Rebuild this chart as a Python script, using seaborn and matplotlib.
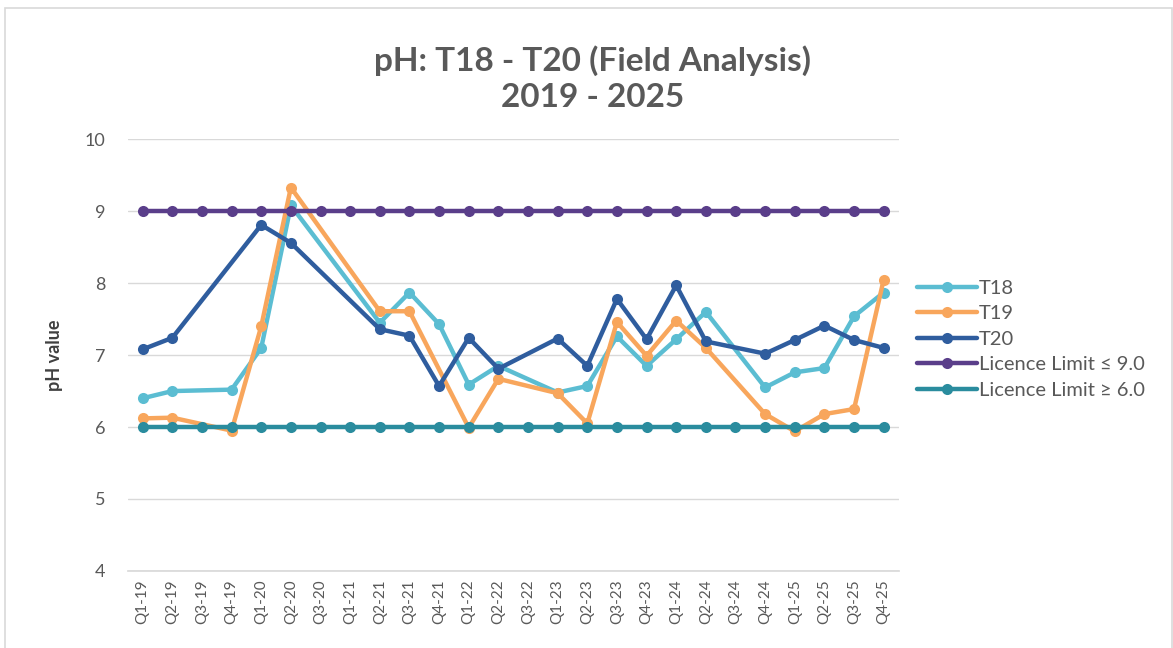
import numpy as np
import pandas as pd
import matplotlib
matplotlib.use("Agg")
import matplotlib.pyplot as plt
import seaborn as sns

quarters = ["Q1-19", "Q2-19", "Q3-19", "Q4-19", "Q1-20", "Q2-20", "Q3-20",
            "Q1-21", "Q2-21", "Q3-21", "Q4-21", "Q1-22", "Q2-22", "Q3-22",
            "Q1-23", "Q2-23", "Q3-23", "Q4-23", "Q1-24", "Q2-24", "Q3-24",
            "Q4-24", "Q1-25", "Q2-25", "Q3-25", "Q4-25"]
nan = np.nan
t18 = [6.40, 6.50, nan, 6.52, 7.10, 9.08, nan, nan, 7.45, 7.87, 7.43, 6.59, 6.85, nan,
       6.48, 6.57, 7.26, 6.85, 7.22, 7.60, nan, 6.55, 6.76, 6.82, 7.54, 7.87]
t19 = [6.12, 6.13, nan, 5.95, 7.40, 9.33, nan, nan, 7.61, 7.61, nan, 5.99, 6.67, nan,
       6.47, 6.05, 7.46, 6.99, 7.48, 7.10, nan, 6.18, 5.94, 6.18, 6.25, 8.05]
t20 = [7.08, 7.24, nan, nan, 8.81, 8.56, nan, nan, 7.36, 7.27, 6.57, 7.24, 6.81, nan,
       7.23, 6.85, 7.78, 7.22, 7.97, 7.19, nan, 7.02, 7.21, 7.41, 7.21, 7.10]
limit_max = [9.0] * len(quarters)
limit_min = [6.0] * len(quarters)

names = ["T18", "T19", "T20", "Licence Limit \u2264 9.0", "Licence Limit \u2265 6.0"]
colors = ["#5BBDD2", "#F8A65C", "#2F5D9E", "#5A3E8A", "#2A8C9E"]

rows = []
for name, vals in zip(names, [t18, t19, t20, limit_max, limit_min]):
    for i, v in enumerate(vals):
        if not np.isnan(v):
            rows.append({"pos": i, "pH": v, "series": name})
data = pd.DataFrame(rows)

sns.set_theme(style="white")
plt.rcParams['font.family'] = ['Lato', 'DejaVu Sans']

fig = plt.figure(figsize=(11.73, 6.48), dpi=100)
ax = fig.add_axes([0.109, 0.119, 0.657, 0.666])

for name, c in zip(names, colors):
    sub = data[data["series"] == name]
    sns.lineplot(x="pos", y="pH", data=sub, color=c, marker="o", markersize=8,
                 markeredgewidth=0, linewidth=3.2, label=name, ax=ax, sort=True)

ax.set_xlim(-0.5, len(quarters) - 0.5)
ax.set_ylim(4, 10)
ax.set_yticks(range(4, 11))
ax.set_xticks(range(len(quarters)))
ax.set_xticklabels(quarters, rotation=90, fontsize=11, color="#595959")
ax.tick_params(axis="y", labelsize=13, labelcolor="#595959", length=0, pad=16)
ax.tick_params(axis="x", length=0, pad=6)
ax.yaxis.grid(True, color="#D9D9D9", linewidth=1)
ax.set_axisbelow(True)
for s in ["top", "right", "left"]:
    ax.spines[s].set_visible(False)
ax.spines["bottom"].set_color("#D9D9D9")
ax.set_xlabel("")
ax.set_ylabel("pH value", fontsize=13, fontweight="bold", color="#404040", labelpad=16)

fig.suptitle("pH: T18 - T20 (Field Analysis)\n2019 - 2025", x=0.505, y=0.93,
             fontsize=24, fontweight="bold", color="#595959", linespacing=1.3)

leg = ax.legend(loc="center left", bbox_to_anchor=(1.0, 0.537), frameon=False,
                fontsize=14.5, handlelength=3.0, handletextpad=0.1, labelspacing=0.42,
                labelcolor="#595959")

fig.patches.append(plt.Rectangle((0.004, -0.01), 0.995, 0.997, transform=fig.transFigure,
                                 fill=False, edgecolor="#D9D9D9", linewidth=1.2))

fig.savefig("out.png", dpi=100)
